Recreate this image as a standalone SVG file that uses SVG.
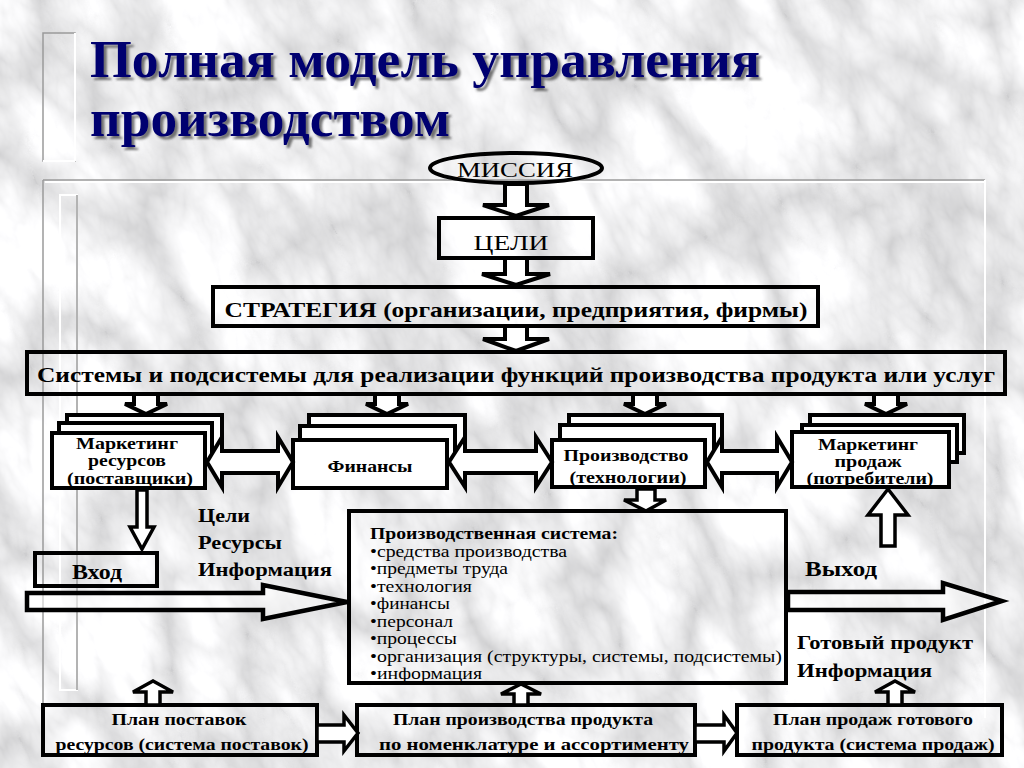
<svg xmlns="http://www.w3.org/2000/svg" width="1024" height="768" viewBox="0 0 1024 768">
<defs>
<filter id="marble" x="-300" y="-300" width="1624" height="1368" filterUnits="userSpaceOnUse">
<feTurbulence type="turbulence" baseFrequency="0.012 0.006" numOctaves="5" seed="11"/>
<feColorMatrix type="matrix" values="0.7 0 0 0 0.62  0.7 0 0 0 0.62  0.7 0 0 0 0.63  0 0 0 0 1"/>
</filter>
<filter id="shadow" x="-5%" y="-20%" width="110%" height="140%">
<feDropShadow dx="3" dy="3" stdDeviation="1.2" flood-color="#404040" flood-opacity="0.7"/>
</filter>
<style>
.t{font-family:"Liberation Serif","Times New Roman",serif;fill:#000}
.b{font-weight:bold}
.title{font-family:"Liberation Serif","Times New Roman",serif;font-weight:bold;font-size:53px;fill:#000070}
.box{fill:none;stroke:#000;stroke-width:4}
.wbox{fill:#fff;stroke:#000;stroke-width:4}
.arr{fill:#fff;stroke:#000;stroke-width:4;stroke-linejoin:miter}
.arrs{fill:#fff;stroke:#000;stroke-width:3.5;stroke-linejoin:miter}
.big{fill:#fff;fill-opacity:0.55;stroke:#000;stroke-width:4.5;stroke-linejoin:miter}
.frame{fill:none;stroke:#fff;stroke-width:2}
.frameg{fill:none;stroke:#9a9a9a;stroke-width:1.5}
</style>
</defs>
<rect width="1024" height="768" fill="#d6d6d6"/>
<g transform="rotate(-25 512 384)">
<rect x="-300" y="-300" width="1624" height="1368" filter="url(#marble)"/>
</g>
<g id="decor">
<rect class="frameg" x="43" y="33" width="32" height="128"/>
<line class="frame" x1="75" y1="33" x2="75" y2="161"/>
<line class="frame" x1="43" y1="161" x2="75" y2="161"/>
<line class="frameg" x1="43" y1="180" x2="985" y2="180"/>
<line class="frame" x1="45" y1="182" x2="985" y2="182"/>
<line class="frame" x1="985" y1="180" x2="985" y2="718"/>
<line class="frameg" x1="43" y1="180" x2="43" y2="705"/>
<rect class="frame" x="60" y="195" width="17" height="495"/>
<line class="frameg" x1="77" y1="195" x2="77" y2="690"/>
</g>
<g id="title" filter="url(#shadow)">
<text class="title" x="90" y="77" textLength="670" lengthAdjust="spacingAndGlyphs">Полная модель управления</text>
<text class="title" x="90" y="136" textLength="360" lengthAdjust="spacingAndGlyphs">производством</text>
</g>
<g id="mission">
<ellipse class="box" cx="516" cy="168" rx="86" ry="15"/>
<text class="t" x="515" y="177" font-size="21" text-anchor="middle" textLength="116" lengthAdjust="spacingAndGlyphs">МИССИЯ</text>
</g>
<g id="goals">
<rect class="box" x="439" y="218" width="154" height="40"/>
<text class="t" x="511" y="250" font-size="22" text-anchor="middle" textLength="75" lengthAdjust="spacingAndGlyphs">ЦЕЛИ</text>
</g>
<g id="strategy">
<rect class="box" x="213" y="287" width="605" height="39"/>
<text class="t b" x="516" y="317" font-size="22" text-anchor="middle" textLength="583" lengthAdjust="spacingAndGlyphs">СТРАТЕГИЯ (организации, предприятия, фирмы)</text>
</g>
<g id="systems">
<rect class="box" x="27" y="352" width="978" height="42"/>
<text class="t b" x="516" y="382" font-size="22" text-anchor="middle" textLength="958" lengthAdjust="spacingAndGlyphs">Системы и подсистемы для реализации функций производства продукта или услуг</text>
</g>
<g id="marketing-resources">
<rect class="wbox" x="67" y="415" width="155" height="38"/>
<rect class="wbox" x="59" y="423" width="153" height="37"/>
<rect class="wbox" x="52" y="433" width="153" height="55"/>
<text class="t b" font-size="16" text-anchor="middle">
<tspan x="129" y="449" textLength="102" lengthAdjust="spacingAndGlyphs">Маркетинг</tspan>
<tspan x="129" y="466" textLength="78" lengthAdjust="spacingAndGlyphs">ресурсов</tspan>
<tspan x="130" y="484" textLength="126" lengthAdjust="spacingAndGlyphs">(поставщики)</tspan>
</text>
</g>
<g id="finance">
<rect class="wbox" x="309" y="415" width="156" height="38"/>
<rect class="wbox" x="300" y="426" width="155" height="36"/>
<rect class="wbox" x="293" y="440" width="154" height="48"/>
<text class="t b" x="370" y="472" font-size="16" text-anchor="middle" textLength="85" lengthAdjust="spacingAndGlyphs">Финансы</text>
</g>
<g id="production">
<rect class="wbox" x="569" y="415" width="153" height="38"/>
<rect class="wbox" x="560" y="425" width="154" height="37"/>
<rect class="wbox" x="552" y="440" width="153" height="47"/>
<text class="t b" font-size="16" text-anchor="middle">
<tspan x="628" y="461" textLength="125" lengthAdjust="spacingAndGlyphs">Производство</tspan>
<tspan x="628" y="483" textLength="117" lengthAdjust="spacingAndGlyphs">(технологии)</tspan>
</text>
</g>
<g id="marketing-sales">
<rect class="wbox" x="810" y="415" width="154" height="38"/>
<rect class="wbox" x="802" y="425" width="155" height="37"/>
<rect class="wbox" x="792" y="432" width="157" height="55"/>
<text class="t b" font-size="16" text-anchor="middle">
<tspan x="870" y="450" textLength="100" lengthAdjust="spacingAndGlyphs">Маркетинг</tspan>
<tspan x="870" y="467" textLength="67" lengthAdjust="spacingAndGlyphs">продаж</tspan>
<tspan x="870" y="484" textLength="127" lengthAdjust="spacingAndGlyphs">(потребители)</tspan>
</text>
</g>
<g id="input">
<rect class="box" x="35" y="553" width="122" height="33"/>
<text class="t b" x="97" y="579" font-size="21" text-anchor="middle" textLength="50" lengthAdjust="spacingAndGlyphs">Вход</text>
</g>
<g id="input-labels">
<text class="t b" font-size="18">
<tspan x="198" y="522" textLength="52" lengthAdjust="spacingAndGlyphs">Цели</tspan>
<tspan x="198" y="549" textLength="84" lengthAdjust="spacingAndGlyphs">Ресурсы</tspan>
<tspan x="198" y="576" textLength="134" lengthAdjust="spacingAndGlyphs">Информация</tspan>
</text>
</g>
<g id="production-system">
<text class="t b" x="370" y="539" font-size="16.5" textLength="248" lengthAdjust="spacingAndGlyphs">Производственная система:</text>
<text class="t" font-size="16.5">
<tspan x="370" y="556.5" textLength="197" lengthAdjust="spacingAndGlyphs">•средства производства</tspan>
<tspan x="370" y="574" textLength="138" lengthAdjust="spacingAndGlyphs">•предметы труда</tspan>
<tspan x="370" y="591.5" textLength="102" lengthAdjust="spacingAndGlyphs">•технология</tspan>
<tspan x="370" y="609" textLength="80" lengthAdjust="spacingAndGlyphs">•финансы</tspan>
<tspan x="370" y="626.5" textLength="83" lengthAdjust="spacingAndGlyphs">•персонал</tspan>
<tspan x="370" y="644" textLength="87" lengthAdjust="spacingAndGlyphs">•процессы</tspan>
<tspan x="370" y="661.5" textLength="412" lengthAdjust="spacingAndGlyphs">•организация (структуры, системы, подсистемы)</tspan>
<tspan x="370" y="679" textLength="112" lengthAdjust="spacingAndGlyphs">•информация</tspan>
</text>
<rect class="box" x="349" y="511" width="437" height="172"/>
</g>
<g id="output-labels">
<text class="t b" x="805" y="576" font-size="21" textLength="72" lengthAdjust="spacingAndGlyphs">Выход</text>
<text class="t b" font-size="18">
<tspan x="797" y="649" textLength="176" lengthAdjust="spacingAndGlyphs">Готовый продукт</tspan>
<tspan x="797" y="677" textLength="135" lengthAdjust="spacingAndGlyphs">Информация</tspan>
</text>
</g>
<g id="plan-supply">
<rect class="box" x="43" y="705" width="274" height="50"/>
<text class="t b" font-size="16" text-anchor="middle">
<tspan x="181" y="725" textLength="135" lengthAdjust="spacingAndGlyphs">План поставок</tspan>
<tspan x="182" y="750" textLength="253" lengthAdjust="spacingAndGlyphs">ресурсов (система поставок)</tspan>
</text>
</g>
<g id="plan-production">
<rect class="box" x="357" y="705" width="338" height="50"/>
<text class="t b" font-size="16" text-anchor="middle">
<tspan x="525" y="725" textLength="260" lengthAdjust="spacingAndGlyphs">План производства продукта</tspan>
<tspan x="534" y="750" textLength="310" lengthAdjust="spacingAndGlyphs">по номенклатуре и ассортименту</tspan>
</text>
</g>
<g id="plan-sales">
<rect class="box" x="737" y="705" width="265" height="50"/>
<text class="t b" font-size="16" text-anchor="middle">
<tspan x="875" y="725" textLength="200" lengthAdjust="spacingAndGlyphs">План продаж готового</tspan>
<tspan x="873" y="750" textLength="243" lengthAdjust="spacingAndGlyphs">продукта (система продаж)</tspan>
</text>
</g>
<g id="connectors">
<path class="arr" d="M505,184 H527 V205 H549 L516,216 L483,205 H505 Z"/>
<path class="arr" d="M505,258 H527 V274 H550 L516,285 L482,274 H505 Z"/>
<path class="arr" d="M505,326 H527 V339 H549 L516,351 L483,339 H505 Z"/>
<path class="arr" d="M134,394 H158 V404 H167 L146,414 L125,404 H134 Z"/>
<path class="arr" d="M375,394 H399 V404 H408 L387,414 L366,404 H375 Z"/>
<path class="arr" d="M633,394 H657 V404 H666 L645,414 L624,404 H633 Z"/>
<path class="arr" d="M874,394 H898 V404 H907 L886,414 L865,404 H874 Z"/>
<path class="arr" d="M207,462 L222,437 V451 H278 V437 L293,462 L278,487 V473 H222 V487 Z"/>
<path class="arr" d="M449,462 L465,437 V451 H536 V437 L552,462 L536,487 V473 H465 V487 Z"/>
<path class="arr" d="M707,462 L722,437 V451 H777 V437 L792,462 L777,487 V473 H722 V487 Z"/>
<path class="arrs" d="M137,490 H147 V527 H154 L142,549 L130,527 H137 Z"/>
<path class="arrs" d="M637,489 H655 V500 H666 L646,511 L624,500 H637 Z"/>
<path class="arrs" d="M881,546 H895 V515 H908 L888,489 L868,515 H881 Z"/>
<path class="big" d="M27,593 H263 V585 L347,602 L263,619 V610 H27 Z"/>
<path class="big" d="M788,592 H943 V583 L1002,601 L943,620 V610 H788 Z"/>
<path class="arrs" d="M146,705 H160 V692 H173 L153,681 L133,692 H146 Z"/>
<path class="arrs" d="M514,705 H528 V694 H541 L521,684 L501,694 H514 Z"/>
<path class="arrs" d="M888,705 H902 V692 H915 L895,681 L875,692 H888 Z"/>
<path class="arrs" d="M317,725 H344 V715 L358,733 L344,751 V742 H317 Z"/>
<path class="arrs" d="M695,725 H724 V715 L737,733 L724,751 V742 H695 Z"/>
</g>
</svg>
